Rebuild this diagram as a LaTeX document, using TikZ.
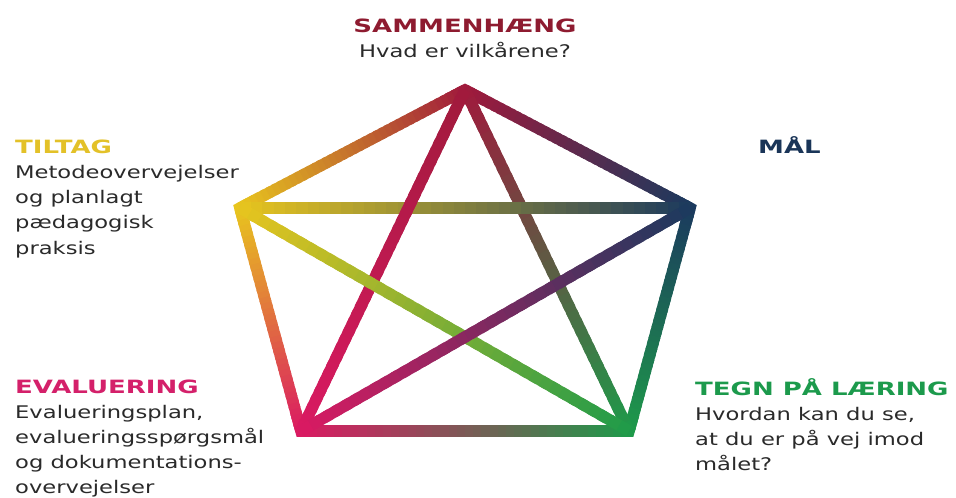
\documentclass[tikz,border=0pt]{standalone}
\usepackage{fontspec}
\setmainfont{DejaVu Sans}[FakeStretch=1.30]
\newfontfamily\hdfont{DejaVu Sans}[FakeStretch=1.42]
\usetikzlibrary{calc}
\definecolor{cT}{HTML}{A01A3C}
\definecolor{cR}{HTML}{1B3A5E}
\definecolor{cBR}{HTML}{1E9A4A}
\definecolor{cBL}{HTML}{DA1A62}
\definecolor{cL}{HTML}{E8C51E}
\definecolor{tT}{HTML}{8E1B30}
\definecolor{tR}{HTML}{1A3558}
\definecolor{tBR}{HTML}{1C9A4C}
\definecolor{tBL}{HTML}{D4206A}
\definecolor{tL}{HTML}{E3C128}
\definecolor{bodygray}{HTML}{2A2A2A}
\newcommand\hd[2]{{\hdfont\bfseries\fontsize{18.3}{25}\selectfont\color{#1}#2}}
\newcommand\gline[4]{%
  \foreach \i in {0,...,39}{%
    \pgfmathsetmacro\pc{100-(\i+0.5)*2.5}%
    \pgfmathsetmacro\sa{\i/40}%
    \pgfmathsetmacro\sb{min(\i+1.6,40)/40}%
    \draw[edge, color=#2!\pc!#4] ($(#1)!\sa!(#3)$) -- ($(#1)!\sb!(#3)$);
  }}
\newcommand\corner[4]{\draw[edge, color=#2, line join=miter, miter limit=10] ($(#1)!0.08!(#3)$) -- (#1) -- ($(#1)!0.08!(#4)$);}
\begin{document}
\begin{tikzpicture}[x=1pt,y=-1pt,
  edge/.style={line width=11.5pt, line cap=butt},
  body/.style={font=\fontsize{17.4}{25.3}\selectfont, text=bodygray, inner sep=0pt},
  bodytight/.style={font=\fontsize{17.4}{25}\selectfont, text=bodygray, inner sep=0pt}]
\useasboundingbox[fill=white] (0,0) rectangle (956,498);
\coordinate (T) at (465,90);
\coordinate (R) at (690,208);
\coordinate (BR) at (629,431);
\coordinate (BL) at (301,431);
\coordinate (L) at (240,208);
% corners
\corner{T}{cT}{L}{R}
\corner{R}{cR}{T}{BR}
\corner{BR}{cBR}{R}{BL}
\corner{BL}{cBL}{BR}{L}
\corner{L}{cL}{BL}{T}
% pentagon edges
\gline{T}{cT}{R}{cR}
\gline{R}{cR}{BR}{cBR}
\gline{BR}{cBR}{BL}{cBL}
\gline{BL}{cBL}{L}{cL}
\gline{L}{cL}{T}{cT}
% star
\gline{T}{cT}{BR}{cBR}
\gline{L}{cL}{R}{cR}
\gline{T}{cT}{BL}{cBL}
\gline{L}{cL}{BR}{cBR}
\gline{R}{cR}{BL}{cBL}
% texts
\node[body, anchor=base] (sam) at (465,32) {\begin{tabular}[t]{@{}c@{}}\hd{tT}{SAMMENHÆNG}\\ Hvad er vilkårene?\end{tabular}};
\node[body, anchor=base west] (til) at (15,153) {\begin{tabular}[t]{@{}l@{}}\hd{tL}{TILTAG}\\ Metodeovervejelser\\ og planlagt\\ pædagogisk\\ praksis\end{tabular}};
\node[body, anchor=base west] (mal) at (758,153) {\hd{tR}{MÅL}};
\node[bodytight, anchor=base west] (eva) at (15,393) {\begin{tabular}[t]{@{}l@{}}\hd{tBL}{EVALUERING}\\ Evalueringsplan,\\ evalueringsspørgsmål\\ og dokumentations-\\ overvejelser\end{tabular}};
\node[body, anchor=base west] (teg) at (695,395) {\begin{tabular}[t]{@{}l@{}}\hd{tBR}{TEGN PÅ LÆRING}\\ Hvordan kan du se,\\ at du er på vej imod\\ målet?\end{tabular}};
\end{tikzpicture}
\end{document}
